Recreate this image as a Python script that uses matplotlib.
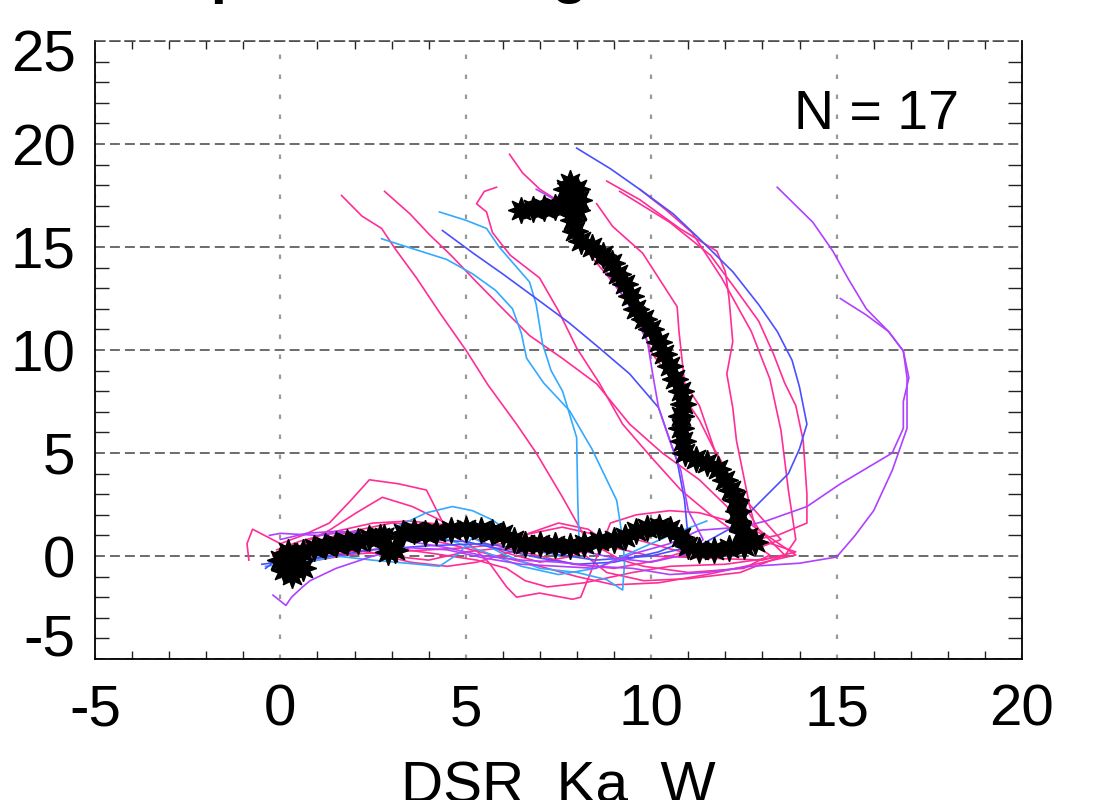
import matplotlib
matplotlib.use("Agg")
import matplotlib.pyplot as plt
from matplotlib.ticker import MultipleLocator

plt.rcParams['font.family'] = ['Liberation Sans', 'DejaVu Sans']

# colours of the individual cases
PINK = '#ff2d95'
LIGHTBLUE = '#33a9ff'
BLUE = '#4a50ff'
PURPLE = '#b040ff'

# individual case profiles (DSR Ka-W on x, y value on y)
a_x = [1.65, 2.2, 2.73, 3.1, 3.67, 4.3, 5.02, 5.6, 6.37, 6.9, 7.61, 8.0, 8.34, 7.9, 7.0, 6.0, 5.0, 4.3, 3.56, 2.75, 2.05, 1.32, 0.6, 0.1]
a_y = [17.5, 16.5, 15.9, 14.9, 13.5, 11.8, 9.95, 8.3, 6.4, 5.0, 2.85, 1.6, 0.5, 0.0, -0.3, 0.2, 1.1, 1.75, 2.4, 2.85, 2.1, 1.25, 0.6, -0.2]

b_x = [2.81, 3.5, 4.02, 4.6, 5.29, 6.0, 6.72, 7.6, 8.53, 9.42, 10.3, 11.3, 12.1, 12.9, 13.9, 12.8, 11.5, 10.2, 9.0, 8.0, 6.8, 5.6, 4.5, 3.3, 2.0, 1.0, 0.2]
b_y = [17.7, 16.6, 15.6, 14.6, 13.3, 12.0, 10.7, 9.6, 8.36, 6.4, 5.0, 3.7, 2.3, 1.26, 0.05, -0.4, -0.9, -1.3, -1.4, -1.0, -0.4, 0.1, 0.6, 1.0, 0.8, 0.4, -0.3]

c_x = [2.73, 3.6, 4.48, 5.18, 5.8, 6.26, 6.5, 6.64, 7.1, 7.8, 8.4, 9.07, 9.25, 9.28, 9.23, 8.8, 8.0, 7.0, 6.0, 5.18, 4.83, 4.29, 3.4, 2.48, 1.5, 0.5, -0.2]
c_y = [15.4, 14.9, 14.4, 13.7, 12.9, 12.0, 10.8, 9.6, 8.4, 7.05, 5.2, 2.7, 0.6, -0.4, -1.65, -1.15, -0.8, -0.6, 0.1, 0.9, 0.15, -0.5, -0.35, -0.2, 0.0, -0.4, -0.5]

d_x = [4.29, 5.0, 5.56, 5.9, 6.72, 6.9, 7.07, 7.3, 7.61, 7.99, 8.02, 8.05, 8.07, 7.5, 6.1, 5.72, 5.18, 4.64, 3.94, 3.0, 2.0, 0.8, -0.3]
d_y = [16.7, 16.3, 15.9, 15.0, 13.3, 12.2, 10.3, 9.0, 8.0, 5.75, 2.7, 1.0, 0.3, 0.0, 1.25, 1.75, 2.2, 2.4, 2.1, 1.3, 0.6, 0.1, -0.3]

e_x = [4.37, 5.2, 5.99, 6.9, 7.8, 8.6, 9.42, 10.2, 10.7, 10.9, 11.0, 10.2, 9.0, 8.0, 7.0, 6.0, 5.0, 4.0, 3.0, 2.0, 1.0, 0.2, -0.4]
e_y = [15.8, 14.7, 13.7, 12.5, 11.3, 10.1, 8.84, 7.2, 4.6, 2.7, 0.8, 0.2, -0.3, -0.4, -0.1, 0.3, 0.7, 0.8, 0.9, 0.7, 0.5, 0.2, -0.6]

f_x = [5.83, 5.5, 5.29, 5.56, 5.72, 6.2, 6.99, 7.5, 7.99, 8.6, 9.23, 10.0, 10.8, 11.6, 12.4, 13.2, 12.5, 11.0, 9.8, 9.2, 8.5, 7.5, 6.3, 5.2, 4.0, 3.0, 2.2, 1.3, 0.4, -0.2]
f_y = [17.9, 17.7, 17.1, 16.7, 15.7, 14.6, 13.5, 11.9, 10.1, 8.4, 6.4, 4.8, 3.2, 2.0, 1.0, 0.05, -0.6, -0.8, -0.5, -0.2, 0.5, 0.7, 0.9, 1.2, 1.5, 1.6, 1.3, 0.9, 0.4, 0.0]

f2_x = [7.99, 8.9, 9.77, 10.6, 11.3, 12.2, 12.9, 13.4, 13.8, 14.0, 14.2, 14.0, 13.7, 12.7, 12.1, 11.4, 10.0, 8.5, 7.0, 5.5, 4.0, 2.5, 1.0, -0.5]
f2_y = [19.8, 18.8, 17.7, 16.6, 15.4, 13.8, 12.2, 10.9, 9.5, 8.2, 6.4, 5.2, 4.0, 2.2, 1.3, 0.6, 0.0, -0.2, 0.2, 0.6, 0.5, 0.3, -0.1, -0.4]

g_x = [6.18, 6.53, 7.0, 7.53, 7.9, 8.26, 8.96, 9.61, 10.04, 10.7, 11.3, 12.1, 12.9, 13.6, 12.4, 11.0, 9.8, 8.8, 8.1, 7.3, 6.4, 5.3, 4.5, 3.5, 2.4, 1.5, 0.5, 0.0]
g_y = [19.5, 18.6, 17.8, 17.2, 16.0, 14.8, 13.3, 11.7, 9.8, 8.2, 6.6, 3.7, 1.3, 0.05, -0.8, -1.1, -1.2, -0.8, 0.2, 0.5, 0.3, -0.3, -0.5, -0.3, 0.2, 0.4, 0.0, -0.6]

h_x = [8.53, 8.96, 9.77, 10.2, 10.7, 10.75, 10.9, 11.3, 11.7, 12.4, 12.9, 13.5, 12.6, 11.6, 10.6, 9.6, 8.6, 7.6, 6.5, 5.5, 4.5, 3.5, 2.5, 1.5, 0.5, -0.1]
h_y = [17.1, 16.0, 14.7, 13.5, 12.1, 10.9, 8.4, 7.3, 5.2, 3.0, 2.0, 0.8, 0.2, -0.1, 0.3, 0.8, 1.0, 1.4, 1.0, 1.3, 1.5, 1.7, 1.6, 1.2, 0.7, 0.3]

i_x = [8.8, 9.69, 10.77, 11.77, 12.0, 12.1, 12.2, 12.04, 12.2, 12.3, 12.66, 12.9, 13.9, 13.0, 11.5, 10.0, 9.0, 8.3, 7.5, 6.7, 6.0, 5.0, 4.0, 3.0, 2.0, 1.0, 0.0]
i_y = [18.2, 17.3, 15.9, 14.8, 13.8, 12.5, 10.4, 8.84, 7.2, 5.6, 2.4, 0.8, 0.2, -0.2, -0.1, 0.0, 0.4, 1.3, 1.6, 1.1, 0.6, 0.4, 0.3, 0.2, 0.1, -0.2, -0.5]

j_x = [9.69, 10.4, 11.1, 11.5, 11.9, 12.3, 12.7, 13.2, 13.5, 13.7, 13.9, 13.6, 12.0, 10.5, 9.5, 8.2, 7.2, 6.6, 6.1, 5.3, 4.2, 3.0, 1.8, 0.8, 0.1]
j_y = [17.8, 16.8, 15.7, 14.6, 13.5, 12.2, 10.9, 8.6, 6.1, 3.2, 0.8, 0.0, -0.4, -0.5, -0.8, -1.3, -1.5, -1.2, -0.6, -0.2, 0.1, 0.4, 0.2, -0.2, -0.8]

k_x = [9.15, 10.5, 11.6, 12.3, 12.9, 13.3, 13.6, 13.9, 14.1, 14.2, 14.2, 13.4, 12.2, 11.2, 10.2, 9.0, 7.9, 7.0, 6.0, 5.0, 4.0, 3.0, 2.0, 1.0, 0.3]
k_y = [17.7, 16.2, 14.6, 12.9, 11.4, 9.8, 8.4, 7.3, 5.6, 3.0, 1.6, 1.0, 0.6, 0.4, -0.2, -0.6, -0.4, 0.0, 0.4, 0.2, -0.2, 0.0, 0.3, 0.1, -0.4]

o_x = [13.2, 12.3, 11.3, 10.5, 9.6, 8.9, 8.1, 7.88, 6.99, 6.37, 6.1, 5.64, 5.18, 4.5, 3.94, 3.2, 2.4, 1.9, 1.32, 0.6, 0.0, -0.75, -0.9, -0.85]
o_y = [0.9, 1.6, 2.1, 2.2, 2.0, 1.6, -2.0, -2.1, -1.8, -2.0, -1.5, -0.35, 0.45, 1.2, 3.2, 3.5, 3.7, 2.7, 1.6, 1.0, 0.6, 1.3, 0.6, -0.2]

l_x = [13.4, 14.36, 14.9, 15.3, 15.8, 16.4, 16.8, 16.9, 16.9, 16.5, 16.0, 15.5, 15.0, 14.0, 12.7, 11.5, 10.5, 9.5, 8.5, 7.5, 6.5, 5.5, 4.5, 3.5, 2.5, 1.5, 0.7, 0.0]
l_y = [17.9, 16.2, 14.8, 13.5, 12.0, 10.9, 9.95, 8.65, 6.2, 4.15, 2.2, 1.0, -0.05, -0.35, -0.5, -0.8, -0.9, -0.6, -0.5, -0.3, -0.2, 0.0, 0.4, 0.7, 1.1, 1.2, 1.1, 0.8]

m_x = [15.1, 15.8, 16.4, 16.8, 16.95, 16.8, 16.8, 16.5, 15.1, 14.2, 13.1, 12.4, 11.3, 10.5, 9.5, 8.5, 7.5, 6.5, 5.5, 4.5, 3.5, 2.5, 1.5, 0.8, 0.6, 0.3, 0.15, -0.2]
m_y = [12.5, 11.7, 10.9, 9.95, 8.65, 7.5, 6.2, 5.0, 3.5, 2.4, 1.7, 1.4, 1.25, 0.6, 0.1, -0.6, -0.5, -0.4, -0.1, 0.3, 0.4, 0.0, -0.6, -1.2, -1.5, -2.0, -2.4, -1.9]

n_x = [6.9, 7.5, 7.99, 8.6, 9.3, 9.9, 10.04, 10.2, 10.5, 10.8, 11.0, 11.4, 11.0, 10.0, 9.0, 8.0, 7.0, 6.0, 5.0, 4.0, 3.0, 2.0, 1.0, 0.0, -0.3]
n_y = [17.8, 17.2, 15.6, 14.3, 12.5, 10.4, 8.84, 7.2, 5.6, 4.15, 2.2, 0.8, 0.1, -0.3, -0.1, 0.3, 0.6, 0.9, 1.2, 1.2, 1.1, 1.2, 1.0, 1.1, 1.0]

q_x = [11.5, 10.5, 9.5, 8.5, 7.5, 6.5, 5.5, 4.5, 3.5, 2.5, 1.5, 0.5, -0.4]
q_y = [1.7, 1.0, 0.2, -0.6, -0.9, -0.5, 0.2, 0.8, 1.1, 0.8, 0.2, -0.3, -0.5]

cases = [
    (a_x, a_y, PINK), (b_x, b_y, PINK), (f_x, f_y, PINK), (g_x, g_y, PINK),
    (h_x, h_y, PINK), (i_x, i_y, PINK), (j_x, j_y, PINK), (k_x, k_y, PINK),
    (o_x, o_y, PINK), (c_x, c_y, LIGHTBLUE), (d_x, d_y, LIGHTBLUE),
    (q_x, q_y, LIGHTBLUE), (e_x, e_y, BLUE), (f2_x, f2_y, BLUE),
    (l_x, l_y, PURPLE), (m_x, m_y, PURPLE), (n_x, n_y, PURPLE),
]

# composite (mean) profile
mean_x = [6.5, 6.8, 7.1, 7.4, 7.7, 7.95, 7.75, 7.7, 7.8, 8.0, 8.05, 8.0, 7.9, 7.95, 8.1, 8.4, 8.7, 8.95,
          9.1, 9.3, 9.45, 9.6, 9.8, 10.0, 10.2, 10.35, 10.5, 10.65, 10.8, 10.85, 10.8, 10.8, 10.85, 10.9,
          11.2, 11.5, 11.8, 12.0, 12.15, 12.3, 12.35, 12.35, 12.45, 12.6, 12.8, 12.5, 12.1, 11.7, 11.3,
          11.0, 10.8, 10.5, 10.2, 9.9, 9.6, 9.3, 9.0, 8.6, 8.2, 7.8, 7.4, 7.0, 6.6, 6.3, 6.0, 5.7, 5.4,
          5.0, 4.6, 4.2, 3.9, 3.6, 3.3, 3.1, 2.9, 2.8, 2.7, 2.4, 2.1, 1.8, 1.5, 1.2, 0.9, 0.6, 0.4, 0.2,
          0.1, 0.3, 0.6, 0.0, 0.2]
mean_y = [16.8, 16.85, 16.9, 16.95, 17.0, 16.9, 17.4, 17.8, 18.1, 17.8, 17.3, 16.8, 16.3, 15.8, 15.3,
          15.0, 14.6, 14.2, 13.7, 13.2, 12.6, 12.0, 11.5, 11.0, 10.4, 9.8, 9.2, 8.6, 8.0, 7.4, 6.8, 6.2,
          5.6, 5.0, 4.7, 4.5, 4.2, 3.7, 3.2, 2.7, 2.2, 1.7, 1.2, 0.9, 0.7, 0.5, 0.4, 0.3, 0.3, 0.5, 0.9,
          1.3, 1.4, 1.35, 1.2, 0.9, 0.8, 0.75, 0.6, 0.5, 0.55, 0.6, 0.6, 0.8, 1.05, 1.15, 1.25, 1.3, 1.25,
          1.15, 1.1, 1.2, 1.1, 0.3, 0.2, 0.9, 0.9, 0.85, 0.75, 0.7, 0.6, 0.5, 0.4, 0.2, -0.1, -0.4, -0.7,
          -0.9, -0.6, -0.2, 0.2]

x_ticks = [-5, 0, 5, 10, 15, 20]
y_ticks = [-5, 0, 5, 10, 15, 20, 25]

fig = plt.figure(figsize=(11.07, 8.0), dpi=100)
ax = fig.add_axes([0.0858, 0.17625, 0.8374, 0.7725])

for xs, ys, col in cases:
    ax.plot(xs, ys, color=col, lw=1.2, zorder=3)

ax.plot(mean_x, mean_y, color='black', lw=8, marker=(8, 1, 0), markersize=19,
        markerfacecolor='black', markeredgecolor='black', zorder=4)

ax.set_xlim(-5, 20)
ax.set_ylim(-5, 25)
ax.set_xticks(x_ticks)
ax.set_yticks(y_ticks)
ax.set_xticklabels([str(v) for v in x_ticks])
ax.set_yticklabels(['' if v in (-5, 25) else str(v) for v in y_ticks])
ax.xaxis.set_minor_locator(MultipleLocator(1))
ax.yaxis.set_minor_locator(MultipleLocator(1))
ax.tick_params(which='major', length=0, labelsize=42, top=True, right=True)
ax.tick_params(axis='x', which='major', pad=18)
ax.tick_params(axis='y', which='major', pad=14)
ax.tick_params(which='minor', direction='in', width=1.0, top=True, right=True, colors='#222222')
ax.tick_params(axis='x', which='minor', length=6)
ax.tick_params(axis='y', which='minor', length=10)

# end labels of the y axis are pulled inside the frame
ax.annotate('25', xy=(0, 25), xycoords=('axes fraction', 'data'), xytext=(-14, -11.5),
            textcoords='offset points', ha='right', va='center', fontsize=42)
ax.annotate('-5', xy=(0, -5), xycoords=('axes fraction', 'data'), xytext=(-14, 13.5),
            textcoords='offset points', ha='right', va='center', fontsize=42)

ax.yaxis.grid(True, linestyle=(0, (6.5, 3.3)), color='#444444', lw=1.1)
ax.xaxis.grid(True, linestyle=(0, (2, 7)), color='#999999', lw=1.6)
ax.set_axisbelow(True)

for side in ['left', 'right', 'bottom']:
    ax.spines[side].set_linewidth(1.3)
ax.spines['top'].set_linestyle((0, (6.5, 3.3)))
ax.spines['top'].set_color('#444444')
ax.spines['top'].set_linewidth(1.1)

ax.text(18.3, 21.4, 'N = 17', ha='right', va='center', fontsize=40)

fig.text(558.5 / 1107, -0.003, 'DSR  Ka  W', ha='center', va='baseline', fontsize=42)
# title sits above the canvas, only the descenders reach into the picture
fig.text(95 / 1107, 1.0 + 8 / 800, 'Temperature range', ha='left', va='baseline', fontsize=42,
         fontweight='bold')

fig.savefig('out.png', dpi=100)
